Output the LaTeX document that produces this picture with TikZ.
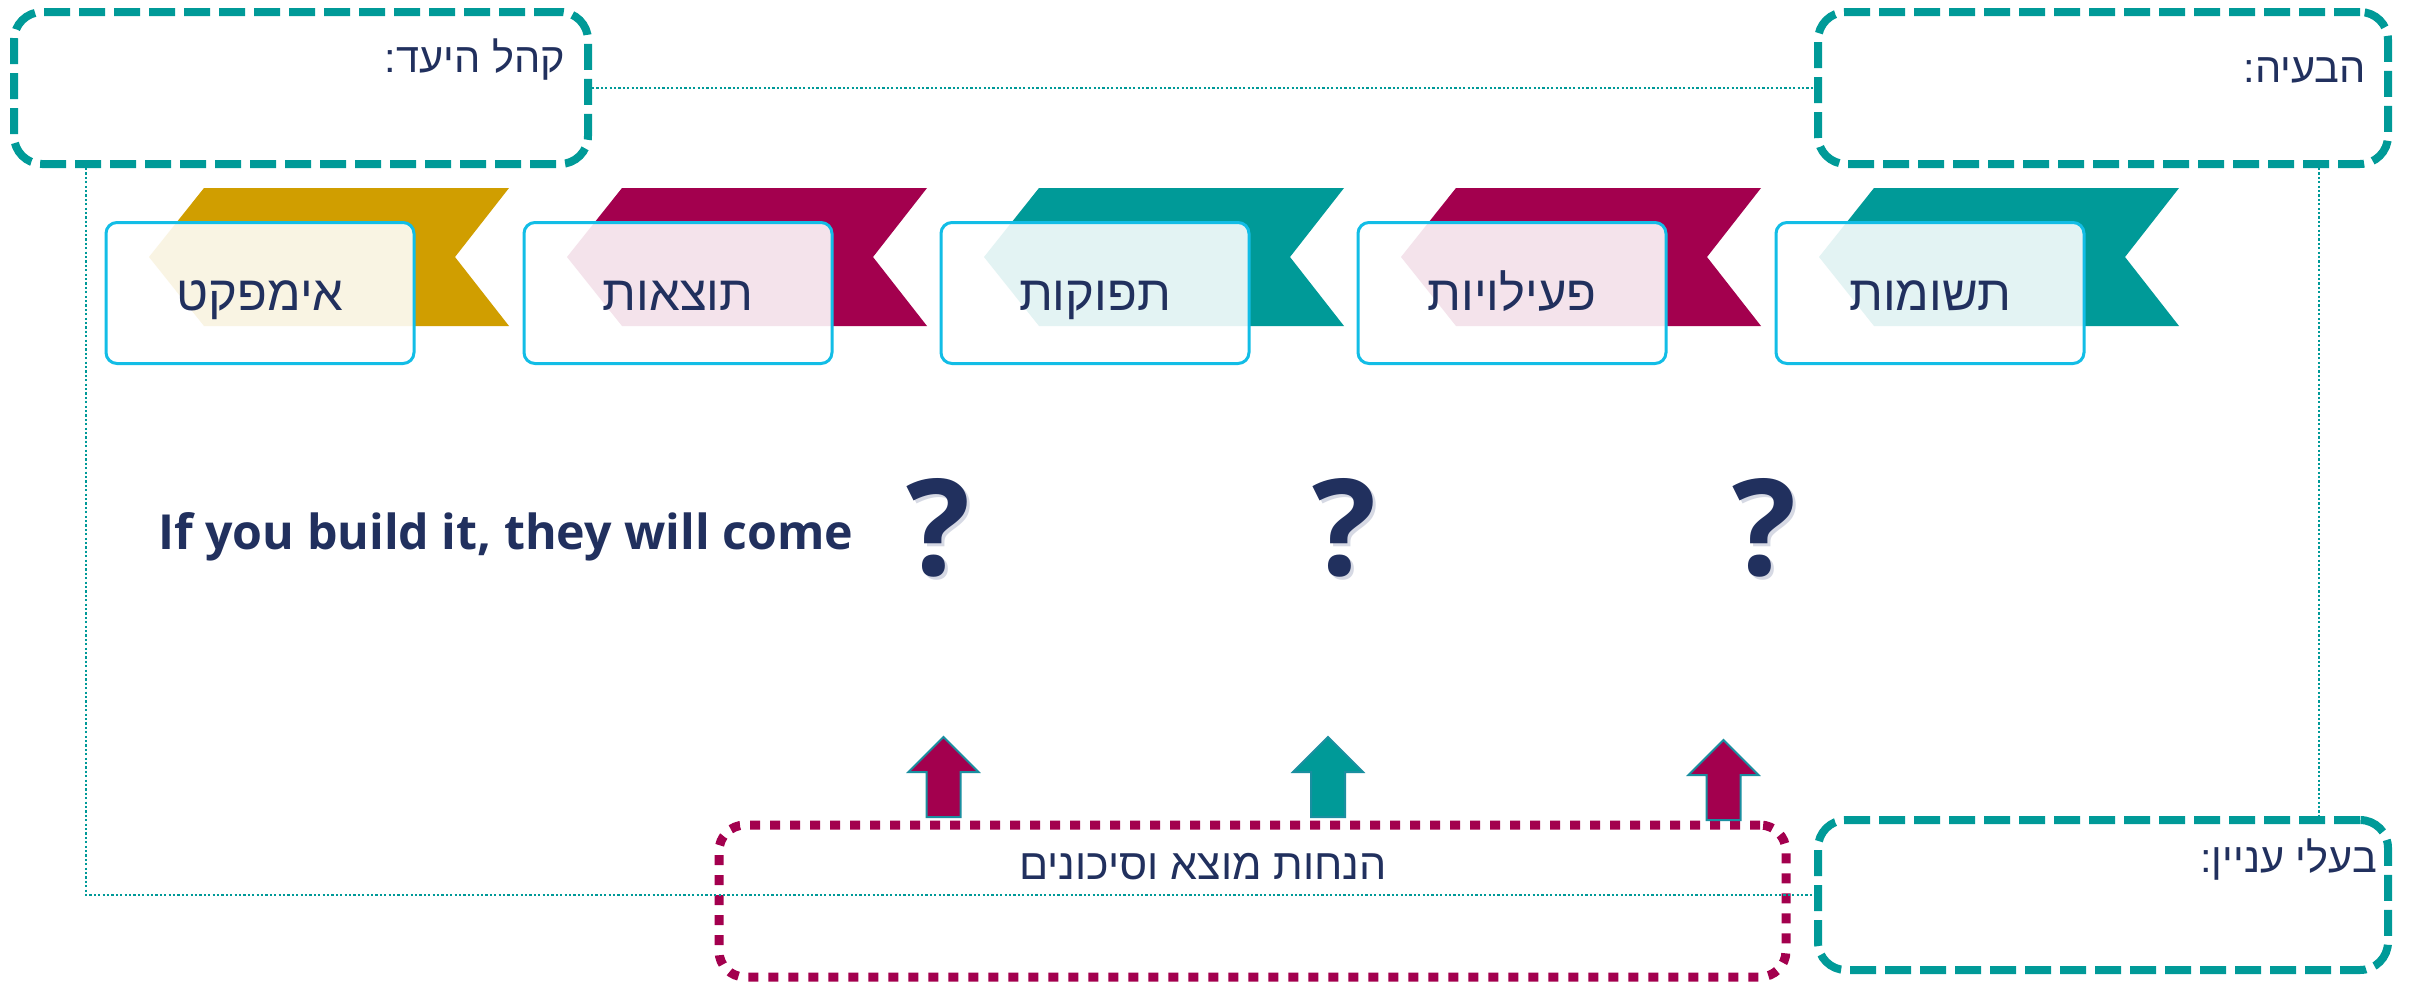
\documentclass[tikz,border=0pt]{standalone}
\usepackage{fontspec}
\setmainfont{Open Sans}
\newfontfamily\heb[Script=Hebrew]{Liberation Sans}
\TeXXeTstate=1
\definecolor{tealc}{HTML}{009A98}
\definecolor{magc}{HTML}{A3004E}
\definecolor{goldc}{HTML}{D09E00}
\definecolor{navyc}{HTML}{21305E}
\definecolor{cyanb}{HTML}{12BDE6}
\definecolor{arredge}{HTML}{1A8FA0}
\definecolor{shadowc}{HTML}{D6D9E4}
\begin{document}
\begin{tikzpicture}[x=1pt,y=-1pt,
  dashbox/.style={draw=tealc, line width=8pt, dash pattern=on 26pt off 9pt, rounded corners=28pt, inner sep=0pt},
  dotbox/.style={draw=magc, line width=9pt, dash pattern=on 10pt off 10pt, rounded corners=26pt, inner sep=0pt},
  dotline/.style={draw=tealc, line width=2.2pt, dash pattern=on 2.2pt off 2.2pt},
  chbox/.style={draw=cyanb, line width=3pt, fill=white, fill opacity=0.89, draw opacity=1, rounded corners=11pt, minimum width=308pt, minimum height=141pt, inner sep=0pt},
  chtext/.style={text=navyc, font=\heb\fontsize{49}{54}\selectfont, inner sep=0pt, anchor=base},
  lbltext/.style={text=navyc, font=\heb\fontsize{41.5}{46}\selectfont, inner sep=0pt, anchor=base east},
  qm/.style={text=navyc, font=\fontsize{134}{134}\selectfont\bfseries, inner sep=0pt, anchor=base},
  arrshape/.style={draw=arredge, line width=2pt, line join=miter}
]
\useasboundingbox (0,0) rectangle (2412,983);
\fill[white] (0,0) rectangle (2412,983);

% frame boxes
\node[dashbox, minimum width=574pt, minimum height=152pt] (tl) at (301,88) {};
\node[dashbox, minimum width=570pt, minimum height=152pt] (tr) at (2103,88) {};
\node[dashbox, minimum width=570pt, minimum height=150pt] (br) at (2103,895) {};
\node[dotbox, minimum width=1067pt, minimum height=152pt] (mb) at (1252.5,901) {};

\coordinate (lx) at (86,0);
\coordinate (rx) at (2319,0);
\draw[dotline] (tl) -- (tr);
\draw[dotline] (tl.south -| lx) |- (br.west);
\draw[dotline] (tr.south -| rx) -- (br.north -| rx);

\node[lbltext] (tltxt) at (565,72) {\beginR קהל היעד:\endR};
\node[lbltext] (trtxt) at (2366,82) {\beginR הבעיה:\endR};
\node[lbltext] (brtxt) at (2377,872) {\beginR בעלי עניין:\endR};
\node[text=navyc, font=\heb\fontsize{43}{48}\selectfont, inner sep=0pt, anchor=base] (mbtxt) at (1203,879) {\beginR הנחות מוצא וסיכונים\endR};

% chevrons and boxes
\foreach \L/\col/\nm/\txt in {106/goldc/b5/אימפקט, 524/magc/b4/תוצאות, 941/tealc/b3/תפוקות, 1358/magc/b2/פעילויות, 1776/tealc/b1/תשומות}{
  \fill[\col] (\L+43,257) -- (\L+98,188) -- (\L+403,188) -- (\L+349,257) -- (\L+403,326) -- (\L+98,326) -- cycle;
  \node[chbox] (\nm) at (\L+154,293) {};
  \node[chtext] (\nm t) at ([yshift=-17pt]\nm.center) {\beginR\txt\endR};
}

% slogan
\node[text=navyc, font=\fontsize{48.3}{53}\selectfont\bfseries, inner sep=0pt, anchor=base west] (slogan) at (158,549) {If you build it, they will come};

% question marks
\foreach \x/\nm in {938/q1, 1344/q2, 1764/q3}{
  \node[qm, text=shadowc] at (\x+3,578) {?};
  \node[qm] (\nm) at (\x,575) {?};
}

% block arrows
\foreach \cx/\ty/\col in {943.5/737/magc, 1328/737/tealc, 1723.5/740/magc}{
  \draw[arrshape, fill=\col] (\cx,\ty) -- ++(35,35) -- ++(-18,0) -- ++(0,45) -- ++(-34,0) -- ++(0,-45) -- ++(-18,0) -- cycle;
}
\end{tikzpicture}
\end{document}
